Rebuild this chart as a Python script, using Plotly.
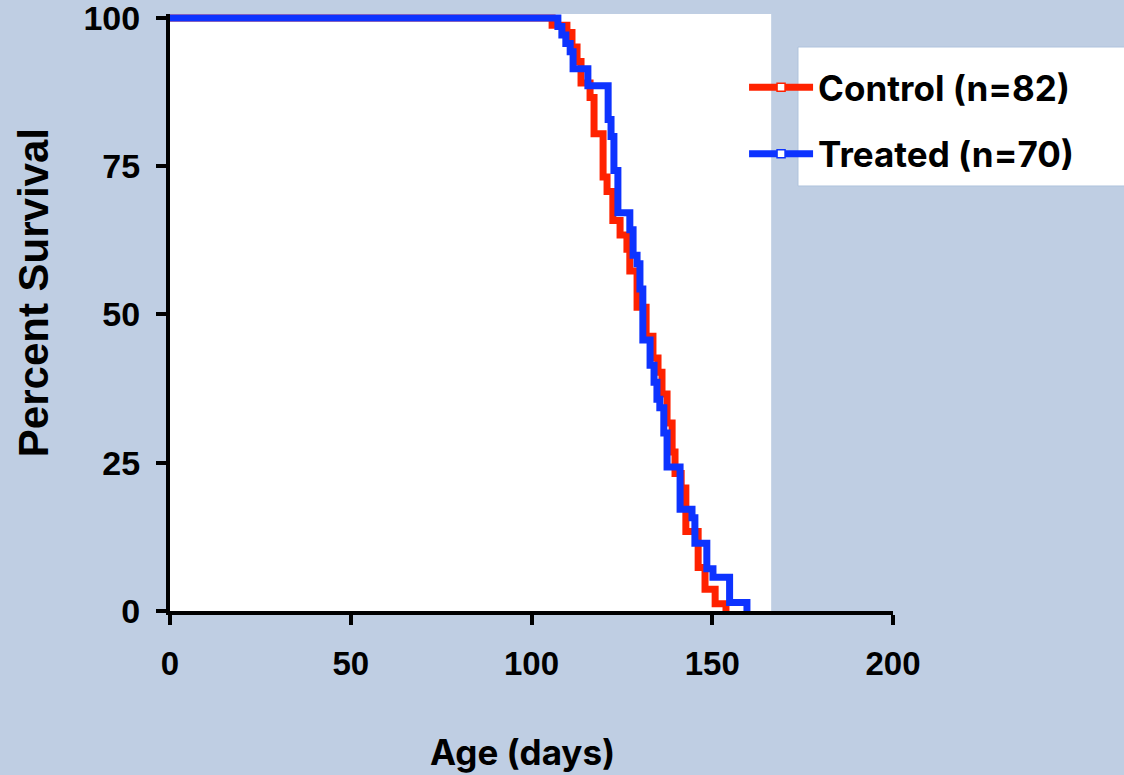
import plotly.graph_objects as go

# ---- data (Kaplan-Meier steps) ----
control_days = [0, 105.7, 109.8, 111.2, 112.6, 113.7, 116.2, 117.3, 119.8, 120.9,
                122.5, 124.5, 126.4, 127.2, 129.2, 131.7, 133.6, 135.0, 136.1, 137.5,
                138.9, 139.7, 141.4, 142.7, 146.1, 148.0, 150.8, 153.8]
control_pct = [100, 98.78, 97.56, 95.12, 92.68, 89.02, 86.59, 80.49, 73.17, 70.73,
               65.85, 63.41, 60.98, 57.32, 51.22, 46.34, 42.68, 40.24, 36.59, 31.71,
               26.83, 23.17, 20.73, 13.41, 7.32, 3.66, 1.22, 0]

treated_days = [0, 107.3, 108.4, 109.5, 110.7, 111.5, 115.6, 121.2, 122.0, 122.8,
                123.9, 127.2, 128.1, 129.2, 130.0, 130.8, 132.8, 133.9, 134.7, 135.5,
                136.6, 137.5, 141.1, 144.4, 145.2, 148.5, 150.2, 154.8, 159.6]
treated_pct = [100, 98.57, 97.14, 95.71, 94.29, 91.43, 88.57, 82.86, 80.0, 74.29,
               67.14, 64.29, 60.0, 58.57, 54.29, 45.71, 41.43, 38.57, 35.71, 34.29,
               30.0, 24.29, 17.14, 15.71, 11.43, 7.14, 5.71, 1.43, 0]

series_names = ["Control (n=82)", "Treated (n=70)"]
x_ticks = [0, 50, 100, 150, 200]
y_ticks = [0, 25, 50, 75, 100]
x_title = "Age (days)"
y_title = "Percent Survival"

RED = "#FF2200"
BLUE = "#0D33FF"
BG = "#BFCEE3"
ARIAL = "Liberation Sans"
CALIBRI = "Inter"

fig = go.Figure()

# legend-only entries (line with small open square)
for name, col, grp in [(series_names[0], RED, "c"), (series_names[1], BLUE, "t")]:
    fig.add_trace(go.Scatter(
        x=[None], y=[None], mode="lines+markers", name=name, legendgroup=grp,
        line=dict(color=col, width=7),
        marker=dict(symbol="square", size=8, color="white", line=dict(color=col, width=1.5)),
    ))

# data curves (blue drawn over red)
fig.add_trace(go.Scatter(x=control_days, y=control_pct, mode="lines", line_shape="hv",
                         line=dict(color=RED, width=7), showlegend=False, legendgroup="c"))
fig.add_trace(go.Scatter(x=treated_days, y=treated_pct, mode="lines", line_shape="hv",
                         line=dict(color=BLUE, width=7), showlegend=False, legendgroup="t"))

fig.update_layout(
    width=1124, height=775,
    margin=dict(l=170, r=231, t=14, b=164, autoexpand=False),
    paper_bgcolor=BG, plot_bgcolor=BG,
    showlegend=True,
    legend=dict(
        x=0.794, xanchor="left", y=0.8216, yanchor="middle",
        bgcolor="rgba(0,0,0,0)", borderwidth=0,
        font=dict(family=CALIBRI, size=35, color="black", weight="bold"),
        itemwidth=64, tracegroupgap=18,
    ),
    xaxis=dict(
        range=[0, 200], tickvals=x_ticks, ticktext=[str(v) for v in x_ticks],
        showline=True, linewidth=4, linecolor="black",
        ticks="outside", ticklen=10, tickwidth=4, tickcolor="black",
        showgrid=False, zeroline=False, automargin=False,
        tickfont=dict(family=ARIAL, size=33, color="black", weight="bold"),
        ticklabelstandoff=10,
    ),
    yaxis=dict(
        range=[0, 100.67], tickvals=y_ticks, ticktext=[str(v) for v in y_ticks],
        showline=True, linewidth=4, linecolor="black",
        ticks="outside", ticklen=10, tickwidth=4, tickcolor="black",
        showgrid=False, zeroline=False, automargin=False,
        tickfont=dict(family=ARIAL, size=34, color="black", weight="bold"),
        ticklabelstandoff=9, ticklabeloverflow="allow",
    ),
    shapes=[
        dict(type="rect", xref="x", yref="y", x0=0, x1=166.3, y0=0, y1=100.67,
             fillcolor="white", line=dict(width=0), layer="below"),
        dict(type="rect", xref="paper", yref="paper", x0=0.8686, x1=1.36, y0=0.7119, y1=0.9447,
             fillcolor="white", line=dict(color="#AFC3DD", width=1), layer="below"),
    ],
    annotations=[
        dict(text=y_title, xref="paper", yref="paper", x=-0.1895, y=0.534,
             xanchor="center", yanchor="middle", textangle=-90, showarrow=False,
             font=dict(family=ARIAL, size=42, color="black", weight="bold")),
        dict(text=x_title, xref="paper", yref="paper", x=0.4869, y=-0.236,
             xanchor="center", yanchor="middle", showarrow=False,
             font=dict(family=CALIBRI, size=35, color="black", weight="bold")),
    ],
)

fig.write_html("out.html")
